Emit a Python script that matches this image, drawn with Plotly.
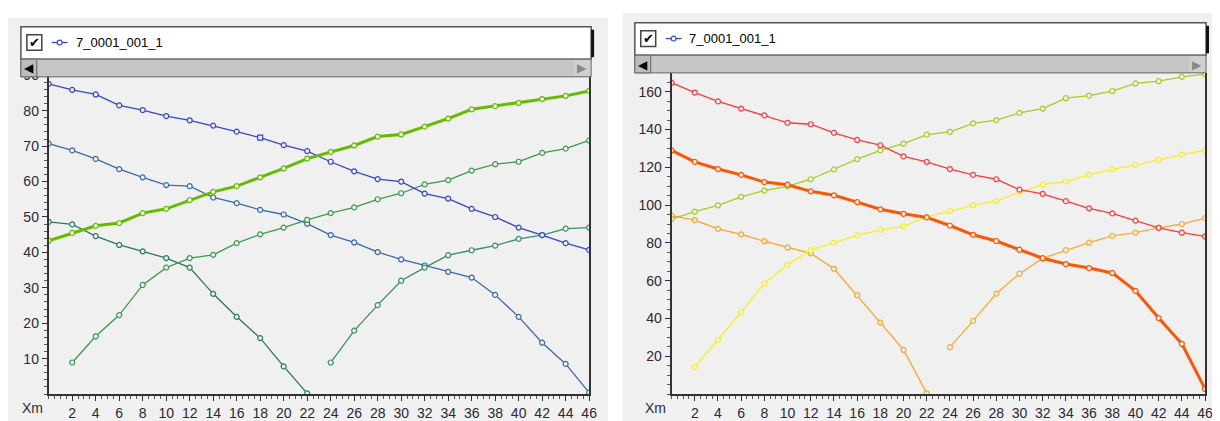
import plotly.graph_objects as go

# page body has an 8px margin, so the figure is 8px smaller and positions are shifted
OFF = 8
W, H = 1220 - OFF, 421 - OFF

# ---------------- data ----------------
x_full = list(range(0, 47, 2))
x_first = list(range(0, 23, 2))
x_from2 = list(range(2, 47, 2))
x_second = list(range(24, 47, 2))
x_ticks = list(range(2, 47, 2))

left_blue = [87.6, 85.9, 84.6, 81.5, 80.2, 78.5, 77.3, 75.8, 74.1, 72.4, 70.3, 68.6,
             65.6, 62.9, 60.7, 60.0, 56.6, 55.2, 52.3, 50.0, 47.0, 44.9, 42.6, 40.7]
left_lime = [43.3, 45.5, 47.5, 48.3, 51.1, 52.3, 54.8, 57.1, 58.7, 61.2, 63.7, 66.5,
             68.4, 70.2, 72.7, 73.3, 75.5, 77.8, 80.4, 81.3, 82.2, 83.3, 84.2, 85.6]
left_steel = [70.7, 68.8, 66.4, 63.5, 61.2, 59.0, 58.7, 55.5, 53.9, 52.0, 50.7, 48.1,
              44.9, 42.8, 40.1, 38.0, 36.3, 34.5, 32.9, 28.0, 21.8, 14.5, 8.5, 0.4]
left_teal = [48.6, 47.9, 44.6, 42.1, 40.3, 38.4, 35.7, 28.3, 21.8, 15.8, 7.8, 0.2]
left_green = [8.9, 16.3, 22.3, 30.8, 35.7, 38.4, 39.3, 42.6, 45.1, 47.0, 49.2, 51.1,
              52.7, 55.0, 56.7, 59.2, 60.4, 63.1, 64.9, 65.6, 68.1, 69.3, 71.6]
left_green2 = [8.9, 17.9, 25.1, 32.0, 35.7, 39.2, 40.6, 41.9, 43.8, 44.9, 46.7, 47.0]

right_red = [164.8, 159.6, 154.9, 151.1, 147.5, 143.6, 142.8, 138.3, 134.5, 131.7, 125.8, 122.9,
             119.1, 116.0, 113.7, 108.2, 106.0, 102.1, 98.3, 95.6, 91.8, 88.0, 85.4, 83.5]
right_olive = [92.6, 96.6, 99.9, 104.4, 107.7, 109.9, 113.7, 118.9, 124.3, 129.0, 132.5, 137.3,
               138.8, 143.3, 145.0, 148.8, 151.1, 156.6, 158.0, 160.4, 164.4, 165.6, 167.9, 169.3]
right_redorange = [129.0, 122.9, 119.1, 116.0, 112.2, 110.8, 107.3, 105.2, 101.6, 97.8, 95.4, 93.5,
                   89.2, 84.3, 81.0, 76.4, 71.9, 68.8, 66.7, 64.1, 54.6, 40.2, 26.6, 2.7]
right_orange = [94.4, 92.1, 87.4, 84.5, 80.9, 77.6, 74.5, 66.3, 52.3, 37.8, 23.4, 0.4]
right_yellow = [14.3, 28.6, 43.3, 58.5, 68.4, 76.2, 80.0, 84.0, 86.9, 88.8, 93.8, 96.9,
                99.9, 102.1, 106.8, 110.8, 112.5, 116.0, 118.9, 121.2, 124.1, 126.7, 129.0]
right_orange2 = [24.8, 38.7, 53.2, 63.7, 71.9, 76.2, 80.1, 83.7, 85.4, 88.0, 90.0, 93.1]

legend_label = "7_0001_001_1"
axis_title = "Xm"

# ---------------- figure ----------------
fig = go.Figure()
BG = "#f0f0f0"


def add_series(xs, ys, color, width, xa, ya, symbols=None):
    fig.add_trace(go.Scatter(
        x=xs, y=ys, mode="lines+markers", xaxis=xa, yaxis=ya, showlegend=False,
        line=dict(color=color, width=width),
        marker=dict(symbol=symbols if symbols else "circle", size=5, color=BG,
                    line=dict(color=color, width=1.2)),
        hoverinfo="x+y",
    ))


sq = ["circle"] * len(x_full)
sq[9] = "square"
add_series(x_full, left_steel, "#3a6aaa", 1.3, "x", "y")
add_series(x_first, left_teal, "#2c7a5c", 1.3, "x", "y")
add_series(x_from2, left_green, "#3d9a50", 1.3, "x", "y")
add_series(x_second, left_green2, "#3a9060", 1.3, "x", "y")
add_series(x_full, left_blue, "#3646d0", 1.3, "x", "y", sq)
add_series(x_full, left_lime, "#66bb00", 3, "x", "y")

add_series(x_first, right_orange, "#ffa424", 1.3, "x2", "y2")
add_series(x_second, right_orange2, "#ffaa30", 1.3, "x2", "y2")
add_series(x_from2, right_yellow, "#f8ee20", 1.3, "x2", "y2")
add_series(x_full, right_olive, "#a8cc20", 1.3, "x2", "y2")
add_series(x_full, right_red, "#ff3a3a", 1.3, "x2", "y2")
add_series(x_full, right_redorange, "#ff5500", 3, "x2", "y2")


def px(xp):
    return (xp - OFF) / W


def py(yp):
    return 1 - (yp - OFF) / H


tickfont = dict(family="Liberation Sans, Arial", size=14, color="#2a2a36")
common_x = dict(range=[0, 46], tickvals=x_ticks, ticks="outside", ticklen=5, tickwidth=1,
                tickcolor="#333", showline=True, linecolor="#333", linewidth=2,
                showgrid=False, zeroline=False, tickfont=tickfont, fixedrange=True,
                minor=dict(dtick=0.5, ticks="outside", ticklen=3, tickcolor="#555", tickwidth=1))
common_y = dict(ticks="outside", ticklen=5, tickwidth=1, tickcolor="#333",
                showline=True, linecolor="#333", linewidth=2, mirror=True,
                showgrid=False, zeroline=False, tickfont=tickfont, fixedrange=True)

fig.update_layout(
    width=W, height=H, margin=dict(l=0, r=0, t=0, b=0),
    paper_bgcolor="white", plot_bgcolor=BG,
    xaxis=dict(domain=[px(49), px(593)], anchor="y", **common_x),
    yaxis=dict(domain=[py(393.5), py(68.5)], anchor="x", range=[0, 90],
               tickvals=list(range(10, 91, 10)),
               minor=dict(dtick=2, ticks="outside", ticklen=3, tickcolor="#555", tickwidth=1),
               **common_y),
    xaxis2=dict(domain=[px(676), px(1213)], anchor="y2", **common_x),
    yaxis2=dict(domain=[py(393.5), py(66)], anchor="x2", range=[0, 170],
                tickvals=list(range(20, 161, 20)),
                minor=dict(dtick=5, ticks="outside", ticklen=3, tickcolor="#555", tickwidth=1),
                **common_y),
)

shapes = []
annotations = []


def rect(x0, y0, x1, y1, fill, line=None, lw=0, layer="above"):
    shapes.append(dict(type="rect", xref="paper", yref="paper",
                       x0=px(x0), x1=px(x1), y0=py(y1), y1=py(y0),
                       fillcolor=fill, line=dict(color=line or fill, width=lw), layer=layer))


def panel(gx0, gy0, gx1, lx0, ly0, lx1):
    # gray panel background
    rect(gx0, gy0, gx1, 421, BG, layer="below")
    # legend box
    rect(lx0, ly0, lx1, ly0 + 33, "white", "#555", 1.5)
    rect(lx1, ly0 + 3, lx1 + 3, ly0 + 31, "#111")
    # scrollbar
    sy0, sy1 = ly0 + 33, ly0 + 51
    rect(lx0, sy0, lx1, sy1, "#c6c6c6", "#666", 1)
    rect(lx0, sy0, lx0 + 16, sy1, "#bcbcbc", "#666", 1)
    rect(lx1 - 17, sy0 + 1, lx1 - 1, sy1 - 1, "#d0d0d0", "#d0d0d0", 0)
    annotations.append(dict(x=px(lx0 + 8), y=py((sy0 + sy1) / 2), xref="paper", yref="paper",
                            text="◀", showarrow=False, font=dict(size=12, color="#000"),
                            xanchor="center", yanchor="middle"))
    annotations.append(dict(x=px(lx1 - 9), y=py((sy0 + sy1) / 2), xref="paper", yref="paper",
                            text="▶", showarrow=False, font=dict(size=12, color="#888"),
                            xanchor="center", yanchor="middle"))
    # checkbox
    cy = ly0 + 16
    rect(lx0 + 6, cy - 8, lx0 + 21, cy + 8, "white", "#444", 1.5)
    annotations.append(dict(x=px(lx0 + 13.5), y=py(cy), xref="paper", yref="paper",
                            text="✔", showarrow=False, font=dict(size=13, color="#000",
                            family="DejaVu Sans"), xanchor="center", yanchor="middle"))
    # legend sample line + marker
    shapes.append(dict(type="line", xref="paper", yref="paper",
                       x0=px(lx0 + 31), x1=px(lx0 + 47), y0=py(cy), y1=py(cy),
                       line=dict(color="#3646d0", width=1.3), layer="above"))
    shapes.append(dict(type="circle", xref="paper", yref="paper",
                       x0=px(lx0 + 36.5), x1=px(lx0 + 41.5), y0=py(cy - 2.5), y1=py(cy + 2.5),
                       fillcolor="white", line=dict(color="#3646d0", width=1.2), layer="above"))
    annotations.append(dict(x=px(lx0 + 53), y=py(cy), xref="paper", yref="paper",
                            text=legend_label, showarrow=False,
                            font=dict(size=13, color="#000", family="Liberation Sans, Arial"),
                            xanchor="left", yanchor="middle"))


panel(6, 10, 612, 21, 19, 595)
panel(627, 5, 1220, 639, 15, 1214)

for xc in (33, 660):
    annotations.append(dict(x=px(xc), y=py(408), xref="paper", yref="paper", text=axis_title,
                            showarrow=False, xanchor="center", yanchor="middle",
                            font=dict(size=14, color="#2a2a36", family="Liberation Sans, Arial")))

fig.update_layout(shapes=shapes, annotations=annotations)
fig.write_html("out.html")
